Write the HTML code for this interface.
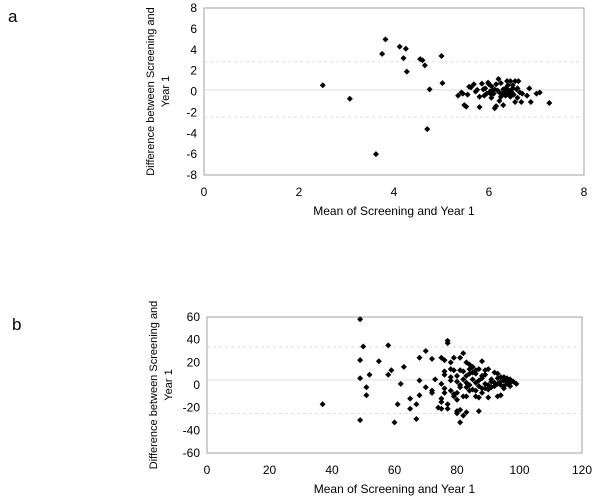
<!DOCTYPE html>
<html><head><meta charset="utf-8"><style>
body{margin:0;background:#fff;width:600px;height:499px;overflow:hidden;font-family:"Liberation Sans",Arial,sans-serif}
svg text{font-family:"Liberation Sans",Arial,sans-serif;fill:#000}
</style></head><body>
<svg id="svg" width="600" height="499">
<text x="8" y="22" font-size="17">a</text>
<text x="12" y="330" font-size="17">b</text>
</svg>
<script>
const aX=[2.5,3.07,3.62,3.75,3.82,4.12,4.25,4.2,4.27,4.55,4.6,4.65,5.0,5.02,4.75,4.7,5.35,5.42,5.45,5.48,5.52,5.55,5.58,5.62,5.68,5.72,5.75,5.8,5.8,5.85,5.88,5.9,5.92,5.98,6.0,6.02,6.05,6.05,6.08,6.1,6.12,6.15,6.15,6.18,6.2,6.22,6.22,6.25,6.28,6.3,6.3,6.32,6.35,6.38,6.4,6.42,6.45,6.45,6.48,6.5,6.52,6.55,6.55,6.58,6.6,6.62,6.65,6.68,6.7,6.8,6.85,6.88,7.0,7.07,7.27,6.35,6.25,6.12,5.95,6.4,6.5,6.6,6.05];
const aY=[0.6,-0.7,-6,3.6,5,4.3,4.1,3.2,1.9,3.1,3.0,2.5,3.4,0.8,0.2,-3.6,-0.4,-0.1,-0.2,-1.3,-1.45,-0.3,0.45,0.4,0.7,0,0.15,-0.5,-1.5,0.75,0.2,-0.4,0.3,0.85,0.7,0,-0.3,0.5,0.1,-0.2,-1.6,0.7,-1.4,0.1,1.2,-0.1,-0.9,0.8,-0.3,-1.3,0.2,0,-0.4,1.0,-0.2,0.1,1.0,-0.5,-0.1,0.3,-0.3,1.0,-1.0,0.2,-0.6,1.0,-0.1,-1.0,-0.2,-0.4,0.3,-1.0,-0.2,-0.1,-1.1,0.3,-0.5,0.2,-0.2,0.6,0.6,0.3,-0.6];
const aLines=[0.15,2.85,-2.45];
const aXTicks=[0,2,4,6,8];
const aYTicks=[-8,-6,-4,-2,0,2,4,6,8];
const bX=[37,49,49,49,49,50,51,51,52,55,58,58,59,60,61,62,63,65,65,67,67,68,68,68,70,70,72,72,72,73,75,76,74,75,75,75,75,76,76,77,77,77,77,78,78,78,79,79,80,80,81,81,81,82,80,80,81,81,82,82,82,83,83,83,83,84,84,85,85,85,86,86,86,87,87,87,87,88,88,88,89,89,89,90,90,90,91,92,92,92,93,93,93,94,94,94,95,95,95,96,96,96,97,97,98,99,97,94,91,88,86,84,83,79,78,80,82,84,76,79,85,88,90,93,95,78,81,84,86,89,91,87,83,80,76];
const bY=[-17,58,22,6,-31,34,-2,-9,9,21,35,9,13,-33,-17,1,16,-12,-21,-30,-17,24,-9,4,30,-2,-5,-7,23,5,24,22,-20,-21,-15,-12,1,9,12,39,37,-17,-21,-5,20,14,13,24,-7,3,24,13,-2,-27,-25,-23,-22,-33,28,-10,12,8,-10,2,-24,18,10,16,5,-4,-10,10,2,-1,-23,14,-11,21,6,-7,13,1,-3,-11,14,-4,5,11,2,-1,10,-10,6,-9,3,0,7,-1,4,6,1,3,2,5,3,1,-1,7,3,8,-5,0,-2,-8,4,8,5,-5,-7,-10,11,-3,0,1,-3,7,0,14,13,9,-2,4,20,-13,-3];
const bLines=[4.4,33.5,-25];
const bXTicks=[0,20,40,60,80,100,120];
const bYTicks=[-60,-40,-20,0,20,40,60];
const NS='http://www.w3.org/2000/svg';
const svg=document.getElementById('svg');
function mk(t,a,p){const e=document.createElementNS(NS,t);for(const k in a)e.setAttribute(k,a[k]);(p||svg).appendChild(e);return e;}
function chart(id,L,R,T,B,xmin,xmax,ymin,ymax,xs,ys,lines,xt,yt){
  const g=mk('g',{});
  
  
  const sx=v=>L+(v-xmin)/(xmax-xmin)*(R-L);
  const sy=v=>B-(v-ymin)/(ymax-ymin)*(B-T);
  const r=mk('rect',{x:L,y:T,width:R-L,height:B-T,fill:'#fff',stroke:'#a0a0a0','stroke-width':1},g);
  
  
  lines.forEach((v,i)=>{const l=mk('line',{x1:L,x2:R,y1:sy(v),y2:sy(v),stroke:'#ddd','stroke-width':1,'stroke-dasharray':i?'3,3':''},g);
    
    });
  xt.forEach(v=>{const t=mk('text',{x:sx(v),y:B+21,'font-size':12,'text-anchor':'middle'},g);t.textContent=v;
    
    });
  yt.forEach(v=>{const t=mk('text',{x:L-7,y:sy(v)+4,'font-size':12,'text-anchor':'end'},g);t.textContent=v;
    
    });
  const xtl=mk('text',{x:(L+R)/2,y:B+40,'font-size':12,'text-anchor':'middle'},g);xtl.textContent='Mean of Screening and Year 1';
  
  
  const cy=(T+B)/2;
  const yl=mk('text',{transform:`translate(${L-50},${cy}) rotate(-90)`,'font-size':11,'text-anchor':'middle'},g);
  
  
  const t1=mk('tspan',{x:0,dy:0},yl);t1.textContent='Difference between Screening and';
  const t2=mk('tspan',{x:0,dy:15},yl);t2.textContent='Year 1';
  xs.forEach((v,i)=>{const x=sx(v),y=sy(ys[i]);
    const p=mk('path',{d:`M${x},${y-3}L${x+3},${y}L${x},${y+3}L${x-3},${y}Z`,fill:'#000'},g);
    
    });
}
chart('a',204,584,8,175,0,8,-8,8,aX,aY,aLines,aXTicks,aYTicks);
chart('b',207,582,317,453,0,120,-60,60,bX,bY,bLines,bXTicks,bYTicks);
</script>
</body></html>
